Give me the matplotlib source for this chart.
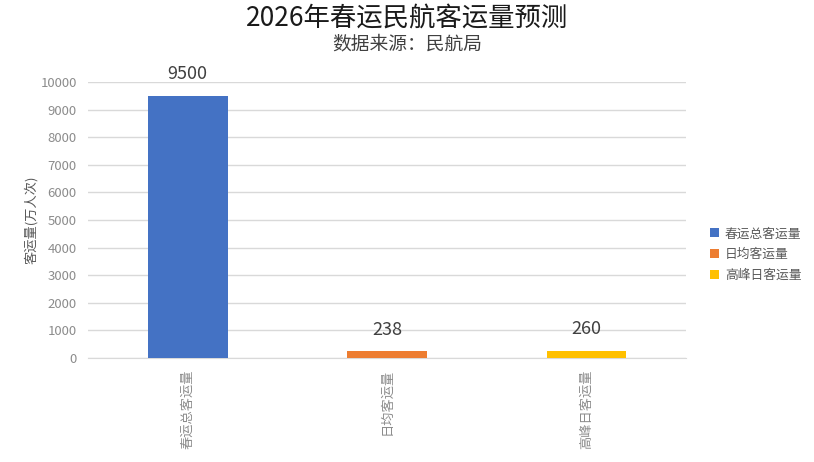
import matplotlib
matplotlib.use('Agg')
import matplotlib.pyplot as plt

plt.rcParams['font.family'] = ['Noto Sans CJK SC', 'DejaVu Sans']

categories = ['春运总客运量', '日均客运量', '高峰日客运量']
values = [9500, 238, 260]
colors = ['#4472C4', '#ED7D31', '#FFC000']
yticks = list(range(0, 10001, 1000))

fig = plt.figure(figsize=(8.14, 4.62), dpi=100)
ax = fig.add_axes([0.108, 0.225, 0.735, 0.5975])

x = list(range(len(categories)))
bars = ax.bar(x, values, width=0.4, color=colors, zorder=3)
for b, c in zip(bars, categories):
    b.set_label(c)

# value labels above the bars
for xi, v in zip(x, values):
    ax.text(xi, v + 450, str(v), ha='center', va='bottom', fontsize=13, color='#404040')

ax.set_xlim(-0.5, 2.5)
ax.set_ylim(0, 10000)
ax.set_yticks(yticks)
ax.set_yticklabels([str(t) for t in yticks], fontsize=9.5, color='#8c8c8c')
ax.set_xticks(x)
ax.set_xticklabels(categories, rotation=90, fontsize=9.5, color='#8c8c8c')
ax.tick_params(length=0, pad=8)
ax.grid(axis='y', color='#d9d9d9', linewidth=1, zorder=0)
for s in ['top', 'right', 'left']:
    ax.spines[s].set_visible(False)
ax.spines['bottom'].set_color('#d9d9d9')

ax.set_ylabel('客运量(万人次)', fontsize=9.5, color='#595959', labelpad=2)

fig.text(0.5, 0.962, '2026年春运民航客运量预测', ha='center', va='center', fontsize=19, color='#1a1a1a')
fig.text(0.5, 0.905, '数据来源：民航局', ha='center', va='center', fontsize=13.5, color='#404040')

leg = ax.legend(loc='center left', bbox_to_anchor=(1.02, 0.375), frameon=False,
                fontsize=9.2, handlelength=0.7, handleheight=0.7, handletextpad=0.5,
                labelspacing=0.6)
for t in leg.get_texts():
    t.set_color('#595959')

fig.savefig('out.png', dpi=100)
